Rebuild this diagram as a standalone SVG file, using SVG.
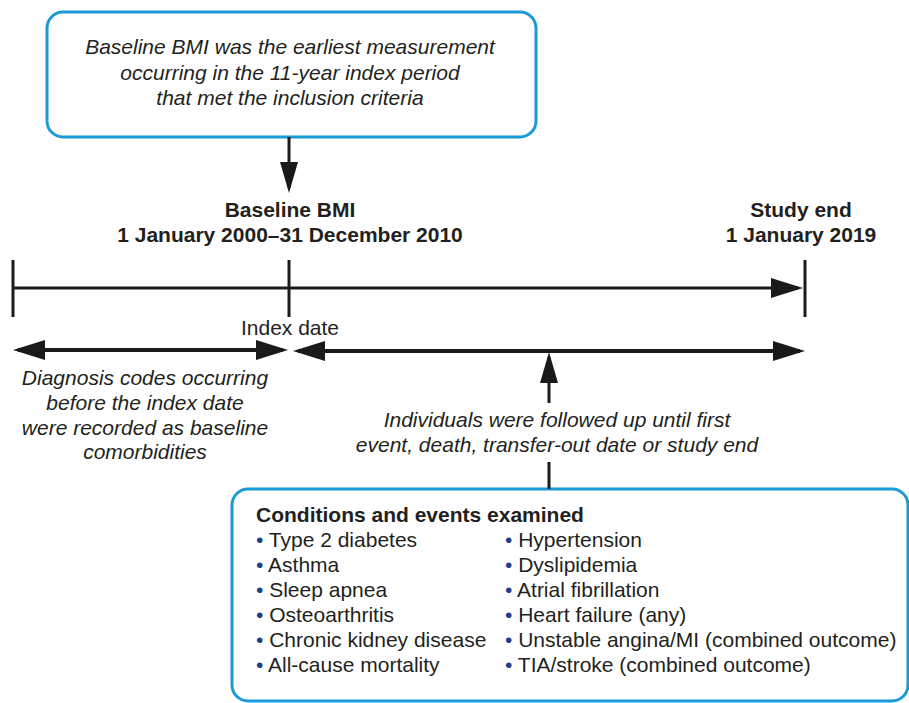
<svg xmlns="http://www.w3.org/2000/svg" width="909" height="703" viewBox="0 0 909 703">
<style>
  text { font-family: "Liberation Sans", Arial, Helvetica, sans-serif; font-size: 21px; fill: #231f20; }
  .it { font-style: italic; }
  .b { font-weight: bold; }
  .mid { text-anchor: middle; }
  .box { fill: #ffffff; stroke: #1a9ad6; stroke-width: 3; }
  .ln { stroke: #1a1a1a; stroke-width: 3; fill: none; }
  .sh { stroke: #1a1a1a; stroke-width: 4; fill: none; }
  .bul { fill: #1d3f87; }
</style>
<defs>
  <marker id="ah" markerUnits="userSpaceOnUse" markerWidth="32" markerHeight="20" refX="27" refY="10" orient="auto-start-reverse" viewBox="0 0 32 20">
    <path d="M0,0 L32,10 L0,20 z" fill="#1a1a1a"/>
  </marker>
  <marker id="ahv" markerUnits="userSpaceOnUse" markerWidth="31" markerHeight="18" refX="26" refY="9" orient="auto" viewBox="0 0 31 18">
    <path d="M0,0 L31,9 L0,18 z" fill="#1a1a1a"/>
  </marker>
</defs>

<g id="node-baseline-box">
  <rect class="box" x="47" y="12" width="489" height="125" rx="16"/>
  <text class="it mid" x="290" y="54">Baseline BMI was the earliest measurement</text>
  <text class="it mid" x="290" y="80">occurring in the 11-year index period</text>
  <text class="it mid" x="290" y="105">that met the inclusion criteria</text>
</g>

<g id="node-baseline-label">
  <text class="b mid" x="290" y="217">Baseline BMI</text>
  <text class="b mid" x="290" y="242">1 January 2000–31 December 2010</text>
</g>

<g id="node-study-end">
  <text class="b mid" x="801" y="217">Study end</text>
  <text class="b mid" x="801" y="242">1 January 2019</text>
</g>

<g id="node-index-date">
  <text class="mid" x="290" y="335">Index date</text>
</g>

<g id="node-diagnosis">
  <text class="it mid" x="145" y="385">Diagnosis codes occurring</text>
  <text class="it mid" x="145" y="410">before the index date</text>
  <text class="it mid" x="145" y="435">were recorded as baseline</text>
  <text class="it mid" x="145" y="459">comorbidities</text>
</g>

<g id="node-followup">
  <text class="it mid" x="557" y="427">Individuals were followed up until first</text>
  <text class="it mid" x="557" y="452">event, death, transfer-out date or study end</text>
</g>

<g id="node-conditions">
  <rect class="box" x="232" y="489" width="676" height="212" rx="16"/>
  <text class="b" x="256" y="522">Conditions and events examined</text>
  <text x="256" y="547"><tspan class="bul">•</tspan> Type 2 diabetes</text>
  <text x="256" y="572"><tspan class="bul">•</tspan> Asthma</text>
  <text x="256" y="597"><tspan class="bul">•</tspan> Sleep apnea</text>
  <text x="256" y="622"><tspan class="bul">•</tspan> Osteoarthritis</text>
  <text x="256" y="647"><tspan class="bul">•</tspan> Chronic kidney disease</text>
  <text x="256" y="672"><tspan class="bul">•</tspan> All-cause mortality</text>
  <text x="505" y="547"><tspan class="bul">•</tspan> Hypertension</text>
  <text x="505" y="572"><tspan class="bul">•</tspan> Dyslipidemia</text>
  <text x="505" y="597"><tspan class="bul">•</tspan> Atrial fibrillation</text>
  <text x="505" y="622"><tspan class="bul">•</tspan> Heart failure (any)</text>
  <text x="505" y="647"><tspan class="bul">•</tspan> Unstable angina/MI (combined outcome)</text>
  <text x="505" y="672"><tspan class="bul">•</tspan> TIA/stroke (combined outcome)</text>
</g>

<g id="connectors">
  <!-- box to baseline -->
  <line class="ln" x1="289" y1="137" x2="289" y2="188" marker-end="url(#ahv)"/>
  <!-- ticks -->
  <line class="ln" x1="13" y1="260" x2="13" y2="317"/>
  <line class="ln" x1="289" y1="260" x2="289" y2="317"/>
  <line class="ln" x1="805" y1="260" x2="805" y2="317"/>
  <!-- timeline -->
  <line class="ln" x1="13" y1="288" x2="798" y2="288" marker-end="url(#ah)"/>
  <!-- pre-index double arrow -->
  <line class="sh" x1="18" y1="350" x2="283" y2="350" marker-start="url(#ah)" marker-end="url(#ah)"/>
  <!-- follow-up double arrow -->
  <line class="sh" x1="298" y1="351" x2="800" y2="351" marker-start="url(#ah)" marker-end="url(#ah)"/>
  <!-- up arrow from follow-up text -->
  <line class="ln" x1="549" y1="403" x2="549" y2="357" marker-end="url(#ahv)"/>
  <!-- text to conditions box -->
  <line class="ln" x1="549" y1="462" x2="549" y2="489"/>
</g>
</svg>
